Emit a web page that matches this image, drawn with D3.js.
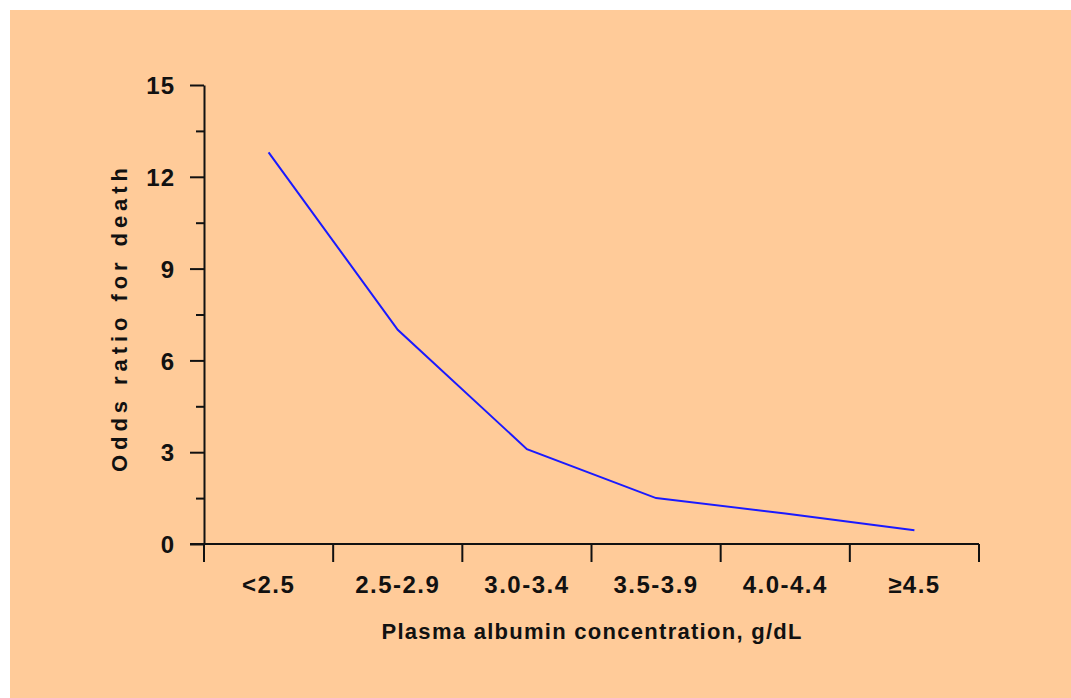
<!DOCTYPE html>
<html>
<head>
<meta charset="utf-8">
<script src="https://cdn.jsdelivr.net/npm/d3@7"></script>
<style>
  html, body { margin: 0; padding: 0; background: #ffffff; }
  svg { display: block; }
  text { font-family: "Liberation Sans", Arial, sans-serif; font-weight: bold; fill: #111; }
</style>
</head>
<body>
<svg id="chart" width="1071" height="698"></svg>
<script>
const categories = ["<2.5", "2.5-2.9", "3.0-3.4", "3.5-3.9", "4.0-4.4", "≥4.5"];
const oddsRatio = [12.8, 7.0, 3.1, 1.5, 1.0, 0.45];
const yMajorTicks = [0, 3, 6, 9, 12, 15];
const yMinorTicks = [1.5, 4.5, 7.5, 10.5, 13.5];
const xTitle = "Plasma albumin concentration, g/dL";
const yTitle = "Odds ratio for death";

(function () {
const svg = d3.select("#chart");
svg.append("rect").attr("x", 10).attr("y", 10).attr("width", 1061).attr("height", 688).attr("fill", "#FFCB99");

const pLeft = 204, pRight = 979, pTop = 85, pBottom = 544;
const x = d3.scaleBand().domain(categories).range([pLeft, pRight]).padding(0);
const y = d3.scaleLinear().domain([0, 15]).range([pBottom, pTop]);

const ink = "#111";

// Y axis major
const yAxis = svg.append("g").attr("transform", `translate(${pLeft},0)`)
  .call(d3.axisLeft(y).tickValues(yMajorTicks).tickSize(14).tickSizeOuter(0).tickPadding(15));
yAxis.select(".domain").attr("stroke", ink).attr("stroke-width", 2);
yAxis.selectAll(".tick line").attr("stroke", ink).attr("stroke-width", 2);
yAxis.selectAll(".tick text").style("font-size", "24px").style("font-family", "'Liberation Sans', Arial, sans-serif")
  .style("font-weight", "bold").attr("letter-spacing", "1px").attr("fill", ink).attr("dy", "0.36em");

// Y axis minor
const yMinor = svg.append("g").attr("transform", `translate(${pLeft},0)`)
  .call(d3.axisLeft(y).tickValues(yMinorTicks).tickSize(8).tickFormat(""));
yMinor.select(".domain").remove();
yMinor.selectAll(".tick line").attr("stroke", ink).attr("stroke-width", 2);

// X axis line
svg.append("line").attr("x1", pLeft - 14).attr("x2", pRight).attr("y1", pBottom).attr("y2", pBottom)
  .attr("stroke", ink).attr("stroke-width", 2);

// X boundary ticks
const bounds = categories.map(c => x(c)).concat([x(categories[categories.length - 1]) + x.bandwidth()]);
svg.append("g").selectAll("line").data(bounds).join("line")
  .attr("x1", d => d).attr("x2", d => d).attr("y1", pBottom).attr("y2", pBottom + 18)
  .attr("stroke", ink).attr("stroke-width", 2);

// X labels
svg.append("g").selectAll("text").data(categories).join("text")
  .attr("x", d => x(d) + x.bandwidth() / 2).attr("y", 593)
  .attr("text-anchor", "middle").style("font-size", "24px").attr("letter-spacing", "1.5px")
  .text(d => d);

// Axis titles
svg.append("text").attr("x", (pLeft + pRight) / 2).attr("y", 639).attr("text-anchor", "middle")
  .style("font-size", "22px").attr("textLength", 420).attr("lengthAdjust", "spacing").text(xTitle);
svg.append("text").attr("transform", `translate(127,${(168 + 472) / 2}) rotate(-90)`).attr("text-anchor", "middle")
  .style("font-size", "22px").attr("textLength", 304).attr("lengthAdjust", "spacing").text(yTitle);

// Line
const line = d3.line().x((d, i) => x(categories[i]) + x.bandwidth() / 2).y(d => y(d));
svg.append("path").datum(oddsRatio).attr("d", line).attr("fill", "none")
  .attr("stroke", "#1a1aff").attr("stroke-width", 2);
})();
</script>
</body>
</html>
